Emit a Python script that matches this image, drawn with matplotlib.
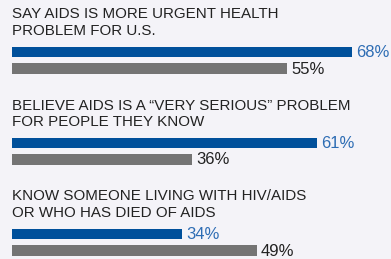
import matplotlib.pyplot as plt

# data
questions = [
    "SAY AIDS IS MORE URGENT HEALTH\nPROBLEM FOR U.S.",
    "BELIEVE AIDS IS A \u201cVERY SERIOUS\u201d PROBLEM\nFOR PEOPLE THEY KNOW",
    "KNOW SOMEONE LIVING WITH HIV/AIDS\nOR WHO HAS DIED OF AIDS",
]
blue_vals = [68, 61, 34]
gray_vals = [55, 36, 49]

bg = "#f4f3f8"
blue = "#00509b"
blue_txt = "#2e6db4"
gray = "#747474"
dark = "#222222"

plt.rcParams['font.family'] = ['Liberation Sans', 'DejaVu Sans']

fig = plt.figure(figsize=(3.91, 2.59), dpi=100, facecolor=bg)
ax = fig.add_axes([0, 0, 1, 1], facecolor=bg)
# 5 px per percent, bars start at x=12 px
ax.set_xlim(-12 / 5, (391 - 12) / 5)
ax.set_ylim(259, 0)
ax.axis('off')

step = 91
for i, (q, b, g) in enumerate(zip(questions, blue_vals, gray_vals)):
    y0 = i * step
    ax.text(0, y0 + 7.5, q, fontsize=10.9, color=dark, va='top', ha='left',
            linespacing=1.22)
    ax.barh(y0 + 52, b, height=10.5, left=0, color=blue)
    ax.barh(y0 + 68.5, g, height=10.5, left=0, color=gray)
    ax.text(b + 0.8, y0 + 52.5, f"{b}%", fontsize=12, color=blue_txt,
            va='center', ha='left')
    ax.text(g + 0.8, y0 + 69, f"{g}%", fontsize=12, color=dark,
            va='center', ha='left')

fig.savefig("out.png", dpi=100, facecolor=bg)
